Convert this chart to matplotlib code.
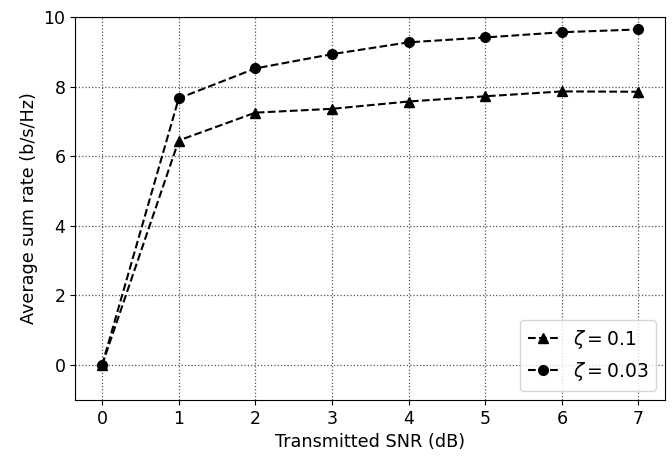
import matplotlib.pyplot as plt

# datos
snr = [0, 1, 2, 3, 4, 5, 6, 7]
rate_01 = [0, 6.45, 7.25, 7.36, 7.57, 7.72, 7.86, 7.85]
rate_003 = [0, 7.66, 8.52, 8.93, 9.27, 9.41, 9.56, 9.64]

fig, ax = plt.subplots(figsize=(6.72, 4.57), dpi=100)
ax.plot(snr, rate_01, "k--^", markersize=7, linewidth=1.5, label=r"$\zeta = 0.1$")
ax.plot(snr, rate_003, "k--o", markersize=7, linewidth=1.5, label=r"$\zeta = 0.03$")
ax.set_ylim(-1, 10)
ax.set_xlim(-0.35, 7.35)
ax.set_xticks(snr)
ax.grid(True, linestyle=":", color="#555555", linewidth=0.9)
ax.set_xlabel("Transmitted SNR (dB)", fontsize=12.7)
ax.set_ylabel("Average sum rate (b/s/Hz)", fontsize=12.7)
ax.tick_params(labelsize=12.5)
ax.legend(loc="lower right", fontsize=13.5, handlelength=1.6)
fig.subplots_adjust(left=0.112, right=0.99, top=0.963, bottom=0.125)
fig.savefig("out.png")
